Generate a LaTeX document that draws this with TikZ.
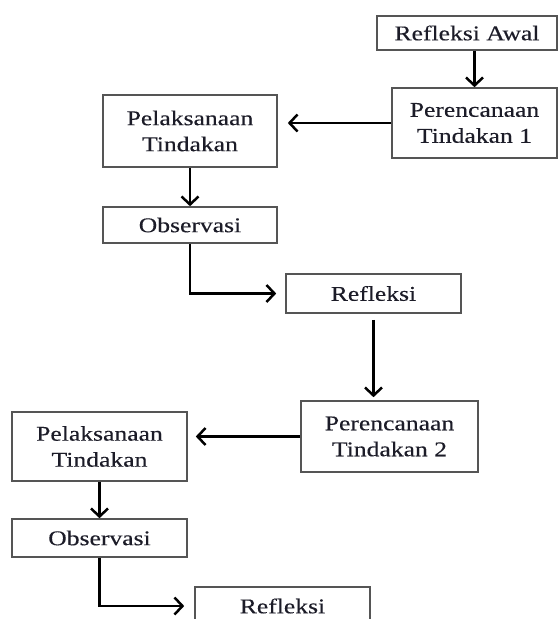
\documentclass[tikz,border=0pt]{standalone}
\usepackage{fontspec}
\usepackage{xcolor}
\usetikzlibrary{arrows.meta}
\newfontfamily\diagfont[FakeStretch=1.22, FakeBold=0.3]{Liberation Serif}
\definecolor{boxgray}{HTML}{555555}
\definecolor{txtdark}{HTML}{1C1C28}

\begin{document}
\begin{tikzpicture}[x=1pt, y=-1pt,
  every node/.style={font=\diagfont\fontsize{21}{26}\selectfont, text=txtdark, align=center},
  box/.style={draw=boxgray, line width=1.6pt, inner sep=0pt},
  flow/.style={line width=2.5pt, -{Straight Barb[length=8pt,width=17pt,line width=2.5pt]}}]
\clip (0,0) rectangle (560,619);
\useasboundingbox (0,0) rectangle (560,619);
% Siklus 1
\node[box, minimum width=180pt, minimum height=34pt] (awal) at (467,33) {Refleksi Awal};
\node[box, minimum width=165pt, minimum height=70pt] (rencana1) at (474.5,123) {Perencanaan\\Tindakan 1};
\node[box, minimum width=174pt, minimum height=72pt] (laksana1) at (190,131) {Pelaksanaan\\Tindakan};
\node[box, minimum width=174pt, minimum height=36pt] (obs1) at (190,225) {Observasi};
\node[box, minimum width=175pt, minimum height=39pt] (ref1) at (373.5,293.5) {Refleksi};
\draw[flow] (rencana1.north |- awal.south) -- (rencana1.north);
\draw[flow, shorten >=10pt] (rencana1.west) -- (laksana1.east |- rencana1.west);
\draw[flow] (laksana1.south) -- (obs1.north);
\draw[flow, shorten >=9pt] (obs1.south) |- (ref1.west);
% Siklus 2
\node[box, minimum width=177pt, minimum height=71pt] (rencana2) at (389.5,436.5) {Perencanaan\\Tindakan 2};
\node[box, minimum width=175pt, minimum height=69pt] (laksana2) at (99.5,446.5) {Pelaksanaan\\Tindakan};
\node[box, minimum width=175pt, minimum height=38pt] (obs2) at (99.5,538) {Observasi};
\node[box, minimum width=175pt, minimum height=38pt] (ref2) at (282.5,606) {Refleksi};
\draw[flow, shorten <=6pt, shorten >=3pt] (ref1.south) -- (ref1.south |- rencana2.north);
\draw[flow, shorten >=8pt] (rencana2.west) -- (laksana2.east |- rencana2.west);
\draw[flow] (laksana2.south) -- (obs2.north);
\draw[flow, shorten >=10pt] (obs2.south) |- (ref2.west);
\end{tikzpicture}
\end{document}
